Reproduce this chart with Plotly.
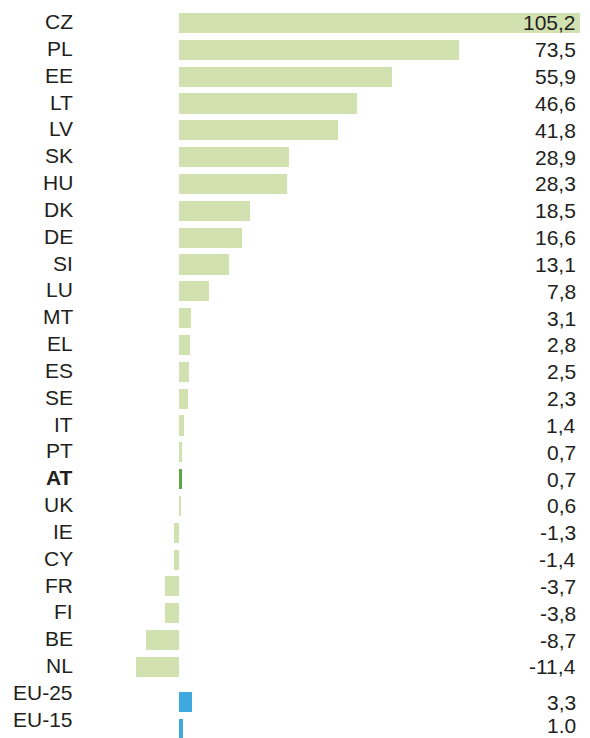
import plotly.graph_objects as go

categories = ["CZ", "PL", "EE", "LT", "LV", "SK", "HU", "DK", "DE", "SI", "LU", "MT", "EL",
              "ES", "SE", "IT", "PT", "AT", "UK", "IE", "CY", "FR", "FI", "BE", "NL", "EU-25", "EU-15"]
values = [105.2, 73.5, 55.9, 46.6, 41.8, 28.9, 28.3, 18.5, 16.6, 13.1, 7.8, 3.1, 2.8,
          2.5, 2.3, 1.4, 0.7, 0.7, 0.6, -1.3, -1.4, -3.7, -3.8, -8.7, -11.4, 3.3, 1.0]
value_labels = ["105,2", "73,5", "55,9", "46,6", "41,8", "28,9", "28,3", "18,5", "16,6", "13,1",
                "7,8", "3,1", "2,8", "2,5", "2,3", "1,4", "0,7", "0,7", "0,6", "-1,3", "-1,4",
                "-3,7", "-3,8", "-8,7", "-11,4", "3,3", "1.0"]
highlight = "AT"
aggregates = ["EU-25", "EU-15"]

GREEN_LIGHT = "#d2e1b0"
GREEN_DARK = "#5ba746"
BLUE = "#3ea9dc"
TEXT = "#231f20"
FONT = "Liberation Sans, Arial, sans-serif"

# row positions: aggregates placed after a small gap
n_main = len(categories) - len(aggregates)
bar_pos, label_pos = [], []
for i, c in enumerate(categories):
    if i < n_main:
        bar_pos.append(i)
        label_pos.append(i - 0.05)
    else:
        k = i - n_main
        bar_pos.append(n_main + 0.32 + 0.98 * k)
        label_pos.append(n_main - 0.05 + 1.0 * k)

colors = []
for c in categories:
    if c in aggregates:
        colors.append(BLUE)
    elif c == highlight:
        colors.append(GREEN_DARK)
    else:
        colors.append(GREEN_LIGHT)

fig = go.Figure(go.Bar(
    x=values, y=bar_pos, orientation="h",
    marker=dict(color=colors, line=dict(width=0)),
    width=0.75, hoverinfo="skip",
))

annotations = []
last = len(categories) - 1
for i, (c, lp, bp, vl) in enumerate(zip(categories, label_pos, bar_pos, value_labels)):
    txt = f"<b>{c}</b>" if c == highlight else c
    annotations.append(dict(x=-0.011, xref="paper", y=lp, yref="y", text=txt,
                            xanchor="right", yanchor="middle", showarrow=False,
                            font=dict(family=FONT, size=21, color=TEXT)))
    annotations.append(dict(x=0.996, xref="paper", y=bp, yref="y", text=vl,
                            xanchor="right", yanchor="middle", showarrow=False,
                            yshift=3 if i == last else 0,
                            font=dict(family=FONT, size=21, color=TEXT)))

fig.update_layout(
    width=590, height=738,
    margin=dict(l=80, r=10, t=0, b=0),
    paper_bgcolor="white", plot_bgcolor="white",
    showlegend=False,
    xaxis=dict(range=[-25.97, 105.2], visible=False, fixedrange=True),
    yaxis=dict(range=[26.65, -0.857], visible=False, fixedrange=True),
    annotations=annotations,
    bargap=0,
)

fig.write_html("out.html",
               config={"displayModeBar": False, "staticPlot": True},
               post_script="document.body.style.margin='0';document.body.style.overflow='hidden';")
